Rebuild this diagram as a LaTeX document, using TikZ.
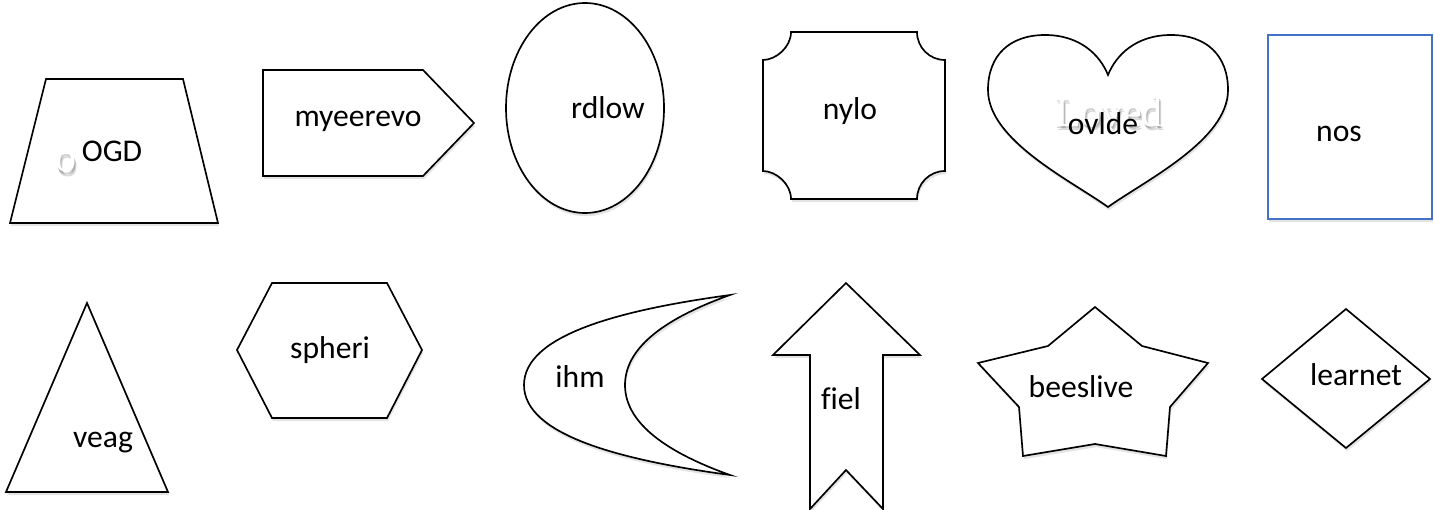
\documentclass[tikz,border=0pt]{standalone}
\usepackage{fontspec}
\setmainfont[Ligatures=NoCommon]{Carlito}
\newfontfamily\wordfont{Liberation Serif}
\usetikzlibrary{shadows}
\begin{document}
\begin{tikzpicture}[x=0.02cm,y=-0.02cm, line join=miter,
		shp/.style={draw, fill=white, line width=0.95pt,
			drop shadow={shadow xshift=0.6pt, shadow yshift=-1.8pt, opacity=0.22}},
		lbl/.style={anchor=base, inner sep=0pt, font=\fontsize{18}{21}\selectfont},
		ghost/.style={anchor=base, inner sep=0pt, font=\wordfont\fontsize{24}{28}\selectfont}]
	\useasboundingbox (0,0) rectangle (1434,510);
	% top row
	\draw[shp] (46,79)--(183,79)--(218,223)--(10,223)--cycle;
	\draw[shp] (263,70)--(423,70)--(474,123)--(423,176)--(263,176)--cycle;
	\draw[shp] (585,108) ellipse [x radius=79, y radius=105];
	\draw[shp] (791,32)--(917,32) .. controls (917,47.5) and (929.5,60) .. (945,60)
		--(945,171) .. controls (929.5,171) and (917,183.5) .. (917,199)
		--(791,199) .. controls (791,183.5) and (775.5,171) .. (763,171)
		--(763,60) .. controls (775.5,60) and (791,47.5) .. (791,32)--cycle;
	\draw[shp] (1108,207) .. controls (1070,180) and (988,140) .. (988,90)
		.. controls (988,55) and (1010,35) .. (1045,35)
		.. controls (1080,35) and (1100,55) .. (1108,75)
		.. controls (1116,55) and (1136,35) .. (1171,35)
		.. controls (1206,35) and (1228,55) .. (1228,90)
		.. controls (1228,140) and (1146,180) .. (1108,207)--cycle;
	\draw[shp, draw={rgb,255:red,68;green,114;blue,196}, line width=0.6pt] (1268,35) rectangle (1432,219);
	% bottom row
	\draw[shp] (87,303)--(168,492)--(6,492)--cycle;
	\draw[shp] (237,350)--(272,283)--(387,283)--(422,350)--(387,418)--(272,418)--cycle;
	\draw[shp] (730,295) .. controls (620,310) and (524,335) .. (524,385)
		.. controls (524,435) and (620,460) .. (730,475)
		.. controls (660,450) and (625,420) .. (625,385)
		.. controls (625,350) and (660,320) .. (730,295)--cycle;
	\draw[shp] (846,283)--(920,355)--(883,355)--(883,509)--(846,470)--(810,509)--(810,355)--(773,355)--cycle;
	\draw[shp] (1095,307)--(1142,346)--(1208,363)--(1170,407)--(1166,456)--(1095,444)
		--(1023,456)--(1019,407)--(978,363)--(1048,346)--cycle;
	\draw[shp] (1346,309)--(1430,379)--(1346,448)--(1262,379)--cycle;
	% white words with shadow
	\node[ghost, text=black, opacity=0.15] (oblur) at (68,176) {o};
	\node[ghost, text=black, opacity=0.2] (oshade) at (67,174) {o};
	\node[ghost, text=white] (o) at (66,172) {o};
	\node[ghost, text=black, opacity=0.15] (lovedblur) at (1111,131) {Loved};
	\node[ghost, text=black, opacity=0.2] (lovedshade) at (1110,129) {Loved};
	\node[ghost, text=white] (loved) at (1109,127) {Loved};
	% labels
	\node[lbl] (ogd) at (112,162) {OGD};
	\node[lbl] (myee) at (358,127) {myeerevo};
	\node[lbl] (rdlow) at (608,119) {rdlow};
	\node[lbl] (nylo) at (850,120) {nylo};
	\node[lbl] (ovlde) at (1103,134) {ovlde};
	\node[lbl] (nos) at (1339,142) {nos};
	\node[lbl] (veag) at (103,447) {veag};
	\node[lbl] (spheri) at (330,358) {spheri};
	\node[lbl] (ihm) at (580,387) {ihm};
	\node[lbl] (fiel) at (841,409) {fiel};
	\node[lbl] (bees) at (1081,397) {beeslive};
	\node[lbl] (learnet) at (1356,385) {learnet};
\end{tikzpicture}
\end{document}
